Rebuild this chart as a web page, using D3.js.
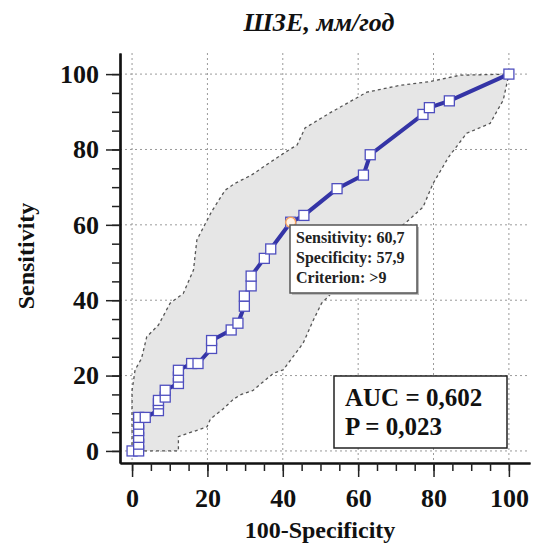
<!doctype html>
<html>
<head>
<meta charset="utf-8">
<script src="https://cdn.jsdelivr.net/npm/d3@7"></script>
<style>
  body { margin: 0; background: #fff; }
  text { font-family: "Liberation Serif", "Times New Roman", serif; font-weight: bold; }
</style>
</head>
<body>
<div id="chart"></div>
<script>
// ROC curve points (100-Specificity, Sensitivity)
var rocX = [0, 1.75, 1.75, 1.75, 1.75, 1.75, 1.75, 3.5, 7.0, 7.0, 7.0, 8.8, 8.8, 12.3, 12.3, 12.3, 15.8, 17.5,
            21.1, 21.1, 26.3, 28.1, 29.8, 29.8, 31.6, 31.6, 35.1, 36.8, 42.1, 45.6, 54.4, 61.4, 63.2, 77.2, 78.9, 84.2, 100];
var rocY = [0, 0, 1.8, 3.6, 5.4, 7.1, 8.9, 8.9, 10.7, 12.5, 13.4, 14.3, 16.1, 17.9, 19.6, 21.4, 23.2, 23.2,
            27.2, 29.3, 32.1, 33.9, 38.4, 41.1, 43.8, 46.4, 51.1, 53.6, 60.7, 62.5, 69.6, 73.2, 78.6, 89.3, 91.1, 92.9, 100];

// confidence band, upper edge
var upperX = [0, 0, 0.8, 2.5, 3.9, 7, 10.1, 13.6, 16.3, 17.2, 21.1, 24.7, 27.3, 31.7, 36.2, 41.5, 43.8, 45.9, 52.5, 62.3, 71, 79, 87, 100];
var upperY = [0, 16, 21.5, 24.5, 30.3, 33.4, 39.2, 41.8, 48, 56, 63.5, 69.2, 71, 73.2, 76.3, 79.8, 81.2, 85.7, 89.7, 95.2, 97, 98, 99.7, 100];
// confidence band, lower edge
var lowerX = [0, 12.3, 12.3, 19.9, 20.8, 24, 27, 29, 32, 35, 37.5, 40.1, 45.4, 48.1, 50.3, 52.5, 56, 60, 65, 70, 72.9, 76.4, 77.2, 79.9, 84, 88.8, 95, 98.5, 100];
var lowerY = [0, 0, 3.8, 6.4, 8.5, 11, 13.8, 15, 16, 18.5, 20.6, 21.5, 28.6, 34.7, 39.2, 41.4, 45.5, 50, 54.5, 58.5, 60.8, 64, 64.7, 71, 78, 84.3, 86.9, 93.1, 100];

var majorTicks = [0, 20, 40, 60, 80, 100];
var minorTicks = d3.range(0, 101, 5);

var critSens = "60,7", critSpec = "57,9", critLabel = ">9";
var critX = 42.1, critY = 60.7;
var aucText = "AUC = 0,602", pText = "P = 0,023";
var title = "ШЗЕ, мм/год";

var W = 536, H = 548;
var svg = d3.select("#chart").append("svg").attr("width", W).attr("height", H);

var x = d3.scaleLinear().domain([-3.2, 105.6]).range([120, 530]);
var y = d3.scaleLinear().domain([-3.2, 105.6]).range([463, 53]);

// grid
var grid = svg.append("g").attr("stroke", "#9a9a9a").attr("stroke-dasharray", "2,3").attr("stroke-width", 1);
grid.selectAll(".gx").data(majorTicks).enter().append("line")
    .attr("x1", function(d) { return x(d); }).attr("x2", function(d) { return x(d); })
    .attr("y1", 53).attr("y2", 463);
grid.selectAll(".gy").data(majorTicks).enter().append("line")
    .attr("y1", function(d) { return y(d); }).attr("y2", function(d) { return y(d); })
    .attr("x1", 120).attr("x2", 530);

// band polygon
var band = [];
for (var i = 0; i < upperX.length; i++) band.push([upperX[i], upperY[i]]);
var lowerPts = [];
for (var j = 0; j < lowerX.length; j++) lowerPts.push([lowerX[j], lowerY[j]]);
var line = d3.line().x(function(d) { return x(d[0]); }).y(function(d) { return y(d[1]); });

svg.append("path")
    .attr("d", line(band.concat(lowerPts.slice().reverse())) + "Z")
    .attr("fill", "#e6e6e6").attr("stroke", "none");
svg.append("path").attr("d", line(band))
    .attr("fill", "none").attr("stroke", "#555").attr("stroke-width", 1.3).attr("stroke-dasharray", "3,3");
svg.append("path").attr("d", line(lowerPts))
    .attr("fill", "none").attr("stroke", "#555").attr("stroke-width", 1.3).attr("stroke-dasharray", "3,3");

// ROC line + markers
var roc = rocX.map(function(v, k) { return [v, rocY[k]]; });
svg.append("path").attr("d", line(roc))
    .attr("fill", "none").attr("stroke", "#3434a6").attr("stroke-width", 4).attr("stroke-linejoin", "round");

var s = 10;
svg.selectAll(".pt").data(roc).enter().append("rect")
    .attr("x", function(d) { return x(d[0]) - s / 2; })
    .attr("y", function(d) { return y(d[1]) - s / 2; })
    .attr("width", s).attr("height", s)
    .attr("fill", "#fff").attr("stroke", "#4f4fbf").attr("stroke-width", 1.3);

svg.append("circle").attr("cx", x(critX)).attr("cy", y(critY)).attr("r", 5)
    .attr("fill", "#fff3e8").attr("stroke", "#f0a060").attr("stroke-width", 1.5);

// axes
var xAxis = svg.append("g").attr("transform", "translate(0,463)")
    .call(d3.axisBottom(x).tickValues(majorTicks).tickSize(14).tickSizeOuter(0).tickPadding(12));
var xMinor = svg.append("g").attr("transform", "translate(0,463)")
    .call(d3.axisBottom(x).tickValues(minorTicks).tickSize(8).tickSizeOuter(0).tickFormat(""));
var yAxis = svg.append("g").attr("transform", "translate(120,0)")
    .call(d3.axisLeft(y).tickValues(majorTicks).tickSize(14).tickSizeOuter(0).tickPadding(7));
var yMinor = svg.append("g").attr("transform", "translate(120,0)")
    .call(d3.axisLeft(y).tickValues(minorTicks).tickSize(8).tickSizeOuter(0).tickFormat(""));

[xAxis, xMinor, yAxis, yMinor].forEach(function(g) {
  g.select(".domain").attr("stroke", "#111").attr("stroke-width", 2.2);
  g.selectAll(".tick line").attr("stroke", "#222").attr("stroke-width", 1.5);
  g.selectAll(".tick text").attr("fill", "#111").attr("font-size", 26)
    .attr("font-family", "Liberation Serif, serif").attr("font-weight", "bold");
});

// titles
svg.append("text").attr("x", 319).attr("y", 31).attr("text-anchor", "middle")
    .attr("font-size", 26).attr("font-style", "italic").attr("fill", "#111").text(title);
svg.append("text").attr("x", 320).attr("y", 538).attr("text-anchor", "middle")
    .attr("font-size", 24).attr("fill", "#111").text("100-Specificity");
svg.append("text").attr("transform", "translate(34,256) rotate(-90)").attr("text-anchor", "middle")
    .attr("font-size", 24).attr("fill", "#111").text("Sensitivity");

// criterion tooltip
svg.append("rect").attr("x", 292).attr("y", 227).attr("width", 127).attr("height", 68).attr("fill", "#bbb");
svg.append("rect").attr("x", 290).attr("y", 225).attr("width", 127).attr("height", 68)
    .attr("fill", "#fff").attr("stroke", "#555").attr("stroke-width", 1.5);
var tip = ["Sensitivity: " + critSens, "Specificity: " + critSpec, "Criterion: " + critLabel];
svg.selectAll(".tip").data(tip).enter().append("text")
    .attr("x", 296).attr("y", function(d, k) { return 243 + k * 20; })
    .attr("font-size", 16).attr("fill", "#222").text(function(d) { return d; });

// AUC box
svg.append("rect").attr("x", 334).attr("y", 376).attr("width", 173).attr("height", 72)
    .attr("fill", "#fff").attr("stroke", "#222").attr("stroke-width", 1.5);
svg.append("text").attr("x", 345).attr("y", 406).attr("font-size", 25).attr("fill", "#111").text(aucText);
svg.append("text").attr("x", 345).attr("y", 435).attr("font-size", 25).attr("fill", "#111").text(pText);
</script>
</body>
</html>
